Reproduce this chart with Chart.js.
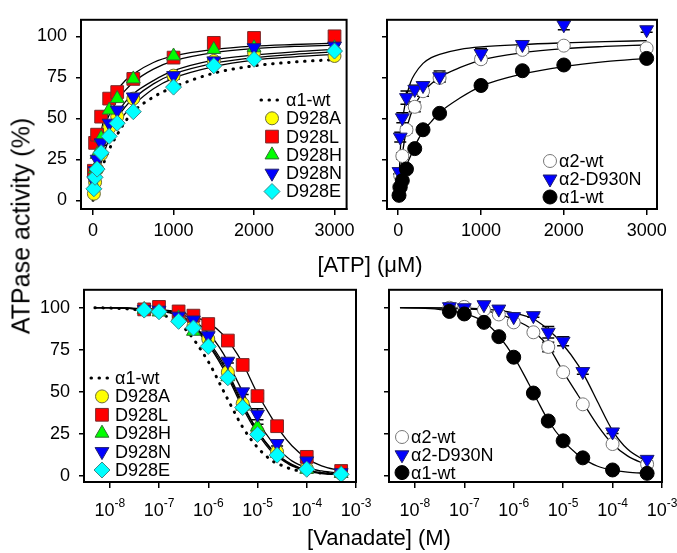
<!DOCTYPE html>
<html>
<head>
<meta charset="utf-8">
<script src="https://cdn.jsdelivr.net/npm/chart.js@4.4.0/dist/chart.umd.min.js"></script>
<style>
body { margin: 0; background: #fff; }
#wrap { position: relative; width: 677px; height: 553px; font-family: 'Liberation Sans', Arial, sans-serif; }
#wrap canvas { position: absolute; }
.title { position: absolute; font-size: 22px; white-space: nowrap; color: #000; transform: translate(-50%, -50%); }
</style>
</head>
<body>
<div id="wrap">
  <canvas id="atpMut" width="360" height="250" style="left:0;top:0"></canvas>
  <canvas id="atpWt" width="317" height="250" style="left:360px;top:0"></canvas>
  <canvas id="vanMut" width="377" height="260" style="left:0;top:270px"></canvas>
  <canvas id="vanWt" width="315" height="260" style="left:362px;top:270px"></canvas>
  <div class="title" style="left:370px;top:265px">[ATP] (μM)</div>
  <div class="title" style="left:379px;top:538px">[Vanadate] (M)</div>
  <div class="title" style="left:21px;top:226px;font-size:25px;transform:translate(-50%,-50%) rotate(-90deg)">ATPase activity (%)</div>
</div>
<script>
// ATP dependence (uM)
const atpConc = [10, 25, 50, 100, 200, 300, 500, 1000, 1500, 2000, 3000];
const atpD928A = [4, 11, 19, 28, 44, 51, 62, 76, 85, 90, 88];
const atpD928L = [18, 35, 40, 51, 62, 66, 74, 87, 96, 99, 100];
const atpD928H = [9, 19, 28, 38, 55, 62, 74, 88, 92, 93, 93];
const atpD928N = [12, 18, 25, 35, 47, 55, 63, 76, 85, 93, 94];
const atpD928E = [7, 14, 19, 29, 39, 47, 54, 69, 82, 86, 91];
const atpA2wt = [8, 15, 27, 43, 57, 66.5, 74.6, 86, 91.7, 94.3, 92.7];
const atpA2D930N = [17.5, 38.5, 50.3, 62.6, 67.6, 70, 75.4, 89.5, 95, 107, 104];
const atpA1wt = [3, 8, 12, 19, 31.5, 43, 53, 70, 79, 82.5, 86.5];

// error bars (+/-), 0 where none is visible
const atpD928AErr = [0, 0, 0, 0, 0, 0, 1.5, 2, 1.5, 1.5, 1];
const atpD928LErr = [1.5, 1.5, 0, 1, 1, 1.5, 2, 1.5, 3, 2.5, 2];
const atpD928HErr = [0, 0, 0, 0, 0, 0, 1.5, 1, 2, 0, 0];
const atpD928NErr = [0, 0, 0, 1.5, 1.5, 0, 1.5, 2, 1.5, 3, 1.5];
const atpD928EErr = [0, 0, 0, 0, 0, 0, 0, 0, 0, 0, 0];
const atpA2wtErr = [0, 0, 2, 2, 3, 3, 2, 2, 2, 1, 1.5];
const atpA2D930NErr = [1.5, 3, 3, 4, 2.5, 2, 3.5, 3, 2, 3, 1.5];
const atpA1wtErr = [0, 0, 0, 0, 0, 0, 0, 0, 1.5, 0, 0];

// fitted curves
const atpFitX = [0, 25, 50, 100, 150, 200, 300, 400, 500, 750, 1000, 1500, 2000, 2500, 3000];
const atpFitD928L = [0, 15, 27, 42, 52, 59, 67, 73, 77, 84, 88, 92, 94, 95, 95.8];
const atpFitD928H = [0, 12, 22, 36, 46, 52, 61, 67, 72, 80, 85, 90, 92.5, 93.8, 94.6];
const atpFitD928N = [0, 9, 17, 29, 38, 44, 53, 60, 65, 73, 79, 85.5, 88.5, 90.5, 92];
const atpFitD928A = [0, 8, 15, 26, 35, 41, 50, 57, 62, 71, 77, 83.5, 87, 89, 90.5];
const atpFitD928E = [0, 7, 13, 23, 31, 37, 46, 53, 58, 68, 74.5, 81.5, 85.5, 87.5, 89];
const atpFitA1wtDots = [0, 5, 10, 18, 25, 31, 40, 48, 54, 63, 69, 77.5, 82, 84.3, 85.8];
const atpFitA2D930N = [0, 30, 47, 63, 72, 77, 83.5, 87, 89, 92, 93.5, 95, 96, 96.8, 97.3];
const atpFitA2wt = [0, 16, 28, 43, 52, 58, 66, 71, 75, 81, 85.5, 90, 92.5, 93.8, 94.7];
const atpFitA1wt = [0, 7, 12, 21, 27, 33, 42, 48, 53.5, 62.5, 69.5, 77, 81.5, 84.5, 86.5];

// vanadate inhibition (M)
const vanConc = [5e-8, 1e-7, 2.5e-7, 5e-7, 1e-6, 2.5e-6, 5e-6, 1e-5, 2.5e-5, 1e-4, 5e-4];
const vanD928A = [99, 98, 93, 89, 81.4, 61.7, 43, 26.8, 14.4, 4.5, 1.5];
const vanD928L = [99, 100.5, 97.8, 95.3, 90.3, 80.5, 66, 47.5, 29.6, 11.4, 3];
const vanD928H = [99, 97.5, 94, 86, 79, 59, 41.5, 29.2, 13.5, 4, 1.5];
const vanD928N = [99, 98.5, 95, 92.7, 83.4, 68.2, 50, 36.7, 19.3, 9, 2];
const vanD928E = [98.6, 97.6, 91.9, 88, 77, 58.4, 40.7, 24.7, 12.4, 4, 1];
const vanA2wt = [100, 100.5, 98.8, 96, 91.3, 85.4, 76.7, 61.7, 42.6, 19, 7];
const vanA2D930N = [100.6, 100, 101.8, 99.2, 94.7, 95.3, 85.4, 80.1, 62.1, 26.2, 9.9];
const vanA1wt = [97.8, 96.3, 91.3, 82.8, 70.6, 49.3, 32.7, 20.9, 10.8, 3.6, 1.6];

const vanD928AErr = [0, 0, 0, 0, 1.5, 1.5, 1.5, 1, 1, 0, 0];
const vanD928LErr = [0, 0, 1, 1, 2, 1, 1, 1.5, 1, 1, 0];
const vanD928HErr = [0, 0, 0, 0, 0, 0, 0, 1.5, 0, 0, 0];
const vanD928NErr = [0, 0, 0, 1, 1.5, 1, 1.5, 3.3, 1.5, 1, 0];
const vanD928EErr = [0, 0, 0, 0, 0, 0, 0, 0, 0, 0, 0];
const vanA2wtErr = [0, 0, 1, 1, 1.5, 1, 2.8, 1, 1, 1, 1];
const vanA2D930NErr = [0, 0, 0, 1, 2, 1, 3.4, 2.7, 1.6, 1, 1];
const vanA1wtErr = [0, 0, 0, 0, 0, 0, 0, 0, 0, 0, 0];

const vanFitX = [5e-9, 1e-8, 3e-8, 1e-7, 3e-7, 1e-6, 2e-6, 3e-6, 5e-6, 1e-5, 2e-5, 3e-5, 5e-5, 1e-4, 2e-4, 5e-4];
const vanFitD928L = [100, 100, 99.6, 99, 97, 91, 84, 77.5, 67, 49, 34, 26, 18, 10.5, 6, 3];
const vanFitD928N = [100, 100, 99.6, 98.7, 96, 85, 73, 63, 50, 33, 20, 14.5, 9, 5, 3, 1.5];
const vanFitD928A = [100, 100, 99.5, 98.5, 95, 80, 67, 57, 43, 27, 15.5, 11, 7, 3.5, 2, 1];
const vanFitD928H = [100, 100, 99.5, 98.3, 94.5, 79, 65.5, 55.5, 42, 27, 15, 10.5, 6.5, 3.3, 1.8, 1];
const vanFitD928E = [100, 100, 99.4, 98, 94, 78, 64, 54, 40.5, 25.5, 14, 10, 6, 3, 1.5, 0.8];
const vanFitA1wtDots = [100, 99.8, 99, 96.5, 89, 68, 51, 41, 29, 17, 9, 6.5, 4, 2.5, 1.8, 1.5];
const vanFitA2D930N = [100, 100, 99.9, 99.7, 99, 97, 94.5, 92, 87, 78, 66, 57, 44, 27, 16, 8.5];
const vanFitA2wt = [100, 100, 99.8, 99.3, 98, 93, 88.5, 84, 77, 62, 48, 40, 30, 19, 12, 6.5];
const vanFitA1wt = [100, 99.8, 99, 96.5, 90, 71, 55, 45, 33, 21, 12.5, 9, 5.8, 3.5, 2.3, 1.6];

const atpTicks = [0, 1000, 2000, 3000];
const vanTicks = [1e-8, 1e-7, 1e-6, 1e-5, 1e-4, 1e-3];
const activityTicks = [0, 25, 50, 75, 100];

const FONT = "'Liberation Sans', Arial, sans-serif";

// marker styles
const mkA = { pointStyle: 'circle', radius: 6.5, fill: '#ffff00', edge: '#6b6b3a' };
const mkL = { pointStyle: 'rect', radius: 9, fill: '#ff0000', edge: '#7a2a2a' };
const mkH = { pointStyle: 'triangle', radius: 8, fill: '#00ff00', edge: '#2f6b2f' };
const mkN = { pointStyle: 'triangle', rotation: 180, radius: 8, fill: '#0000ff', edge: '#20206b' };
const mkE = { pointStyle: 'rectRot', radius: 8, fill: '#00ffff', edge: '#3a8a8a' };
const mkA2wt = { pointStyle: 'circle', radius: 6.5, fill: '#ffffff', edge: '#777777' };
const mkA2N = { pointStyle: 'triangle', rotation: 180, radius: 8, fill: '#0000ff', edge: '#20206b' };
const mkA1wt = { pointStyle: 'circle', radius: 7, fill: '#000000', edge: '#000000' };

function pts(xs, ys) {
    return xs.map(function(x, i) { return { x: x, y: ys[i] }; });
}

function pointSet(xs, ys, errs, mk, order) {
    return {
        type: 'scatter', order: order, data: pts(xs, ys), errs: errs, showLine: false,
        pointStyle: mk.pointStyle, rotation: mk.rotation || 0,
        pointRadius: mk.radius, pointHoverRadius: mk.radius,
        pointBackgroundColor: mk.fill, pointBorderColor: mk.edge, pointBorderWidth: 1
    };
}

function curveSet(xs, ys, dotted) {
    return {
        type: 'line', order: 50, data: pts(xs, ys), showLine: true, fill: false,
        pointRadius: 0, borderColor: '#000',
        borderWidth: dotted ? 3 : 1.3,
        borderDash: dotted ? [0.5, 7.5] : [],
        borderCapStyle: dotted ? 'round' : 'butt',
        cubicInterpolationMode: 'monotone'
    };
}

function drawMarker(ctx, mk, x, y) {
    const r = mk.radius;
    ctx.save();
    ctx.fillStyle = mk.fill;
    ctx.strokeStyle = mk.edge;
    ctx.lineWidth = 1;
    ctx.beginPath();
    if (mk.pointStyle === 'circle') {
        ctx.arc(x, y, r, 0, Math.PI * 2);
    } else if (mk.pointStyle === 'rect') {
        const s = r * Math.SQRT1_2;
        ctx.rect(x - s, y - s, 2 * s, 2 * s);
    } else if (mk.pointStyle === 'rectRot') {
        ctx.moveTo(x, y - r); ctx.lineTo(x + r, y); ctx.lineTo(x, y + r); ctx.lineTo(x - r, y);
        ctx.closePath();
    } else {
        const d = mk.rotation === 180 ? -1 : 1;
        ctx.moveTo(x, y - d * r);
        ctx.lineTo(x + r * 0.866, y + d * r * 0.5);
        ctx.lineTo(x - r * 0.866, y + d * r * 0.5);
        ctx.closePath();
    }
    ctx.fill();
    ctx.stroke();
    ctx.restore();
}

// error bars go under the markers
const errorBars = {
    id: 'errorBars',
    beforeDatasetsDraw: function(chart) {
        const ctx = chart.ctx;
        const sx = chart.scales.x, sy = chart.scales.y;
        ctx.save();
        ctx.strokeStyle = '#000';
        ctx.lineWidth = 1.5;
        chart.data.datasets.forEach(function(ds) {
            if (!ds.errs) return;
            ds.data.forEach(function(p, i) {
                const e = ds.errs[i];
                if (!e) return;
                const px = sx.getPixelForValue(p.x);
                const top = sy.getPixelForValue(p.y + e);
                const bot = sy.getPixelForValue(p.y - e);
                ctx.beginPath();
                ctx.moveTo(px, top); ctx.lineTo(px, bot);
                ctx.moveTo(px - 6, top); ctx.lineTo(px + 6, top);
                ctx.moveTo(px - 6, bot); ctx.lineTo(px + 6, bot);
                ctx.stroke();
            });
        });
        ctx.restore();
    }
};

// frame, in-plot legend and 10^n tick labels
const panelExtras = {
    id: 'panelExtras',
    afterDraw: function(chart, args, opts) {
        const ctx = chart.ctx;
        const a = chart.chartArea;
        ctx.save();
        ctx.strokeStyle = '#000';
        ctx.lineWidth = 2;
        ctx.strokeRect(a.left, a.top, a.right - a.left, a.bottom - a.top);

        ctx.fillStyle = '#000';
        ctx.textBaseline = 'middle';
        ctx.font = '18px ' + FONT;
        (opts.legend || []).forEach(function(it, i) {
            const y = opts.legendY + i * opts.legendStep;
            if (it.dotted) {
                ctx.save();
                ctx.strokeStyle = '#000';
                ctx.lineWidth = 3;
                ctx.lineCap = 'round';
                ctx.setLineDash([0.5, 7.5]);
                ctx.beginPath();
                ctx.moveTo(opts.legendX - 11, y);
                ctx.lineTo(opts.legendX + 10, y);
                ctx.stroke();
                ctx.restore();
            } else {
                drawMarker(ctx, it.mk, opts.legendX, y);
            }
            ctx.fillText(it.label, opts.textX, y + 1);
        });

        if (opts.powerLabels) {
            const sx = chart.scales.x;
            sx.ticks.forEach(function(t) {
                const px = sx.getPixelForValue(t.value);
                const exp = String(Math.round(Math.log10(t.value)));
                ctx.font = '18px ' + FONT;
                const wb = ctx.measureText('10').width;
                ctx.font = '12px ' + FONT;
                const we = ctx.measureText(exp).width;
                const x0 = px - (wb + we) / 2;
                ctx.textBaseline = 'alphabetic';
                ctx.textAlign = 'left';
                ctx.font = '18px ' + FONT;
                ctx.fillText('10', x0, a.bottom + 34);
                ctx.font = '12px ' + FONT;
                ctx.fillText(exp, x0 + wb, a.bottom + 25);
            });
        }
        ctx.restore();
    }
};

function makeAxis(type, min, max, ticks, showLabels, size, isX, tickLen) {
    return {
        type: type, min: min, max: max,
        afterBuildTicks: function(s) { s.ticks = ticks.map(function(v) { return { value: v }; }); },
        afterFit: function(s) { if (isX) { s.height = size; } else { s.width = size; } },
        border: { display: true, color: '#000', width: 2 },
        grid: { drawOnChartArea: false, drawTicks: true, color: '#000', lineWidth: 1.5, tickLength: tickLen },
        ticks: {
            color: '#000', font: { family: FONT, size: 18 }, padding: isX ? 5 : 9,
            maxRotation: 0, autoSkip: false,
            callback: function(v) { return showLabels ? String(v) : ''; }
        }
    };
}

function makePanel(id, datasets, scales, pad, extras) {
    new Chart(document.getElementById(id), {
        type: 'scatter',
        data: { datasets: datasets },
        options: {
            responsive: false, animation: false, devicePixelRatio: 1,
            layout: { padding: pad },
            scales: scales,
            plugins: { legend: { display: false }, tooltip: { enabled: false }, panelExtras: extras }
        },
        plugins: [errorBars, panelExtras]
    });
}

// top left: D928 mutants vs ATP
makePanel('atpMut', [
    curveSet(atpFitX, atpFitA1wtDots, true),
    curveSet(atpFitX, atpFitD928L, false),
    curveSet(atpFitX, atpFitD928H, false),
    curveSet(atpFitX, atpFitD928N, false),
    curveSet(atpFitX, atpFitD928A, false),
    curveSet(atpFitX, atpFitD928E, false),
    pointSet(atpConc, atpD928A, atpD928AErr, mkA, 5),
    pointSet(atpConc, atpD928L, atpD928LErr, mkL, 4),
    pointSet(atpConc, atpD928H, atpD928HErr, mkH, 3),
    pointSet(atpConc, atpD928N, atpD928NErr, mkN, 2),
    pointSet(atpConc, atpD928E, atpD928EErr, mkE, 1)
], {
    x: makeAxis('linear', -150, 3150, atpTicks, true, 41, true, 6),
    y: makeAxis('linear', -5.33, 110.06, activityTicks, true, 81, false, 5)
}, { top: 14, right: 7, left: 0, bottom: 0 }, {
    legendX: 272, textX: 286, legendY: 100, legendStep: 18.3,
    legend: [
        { label: 'α1-wt', dotted: true },
        { label: 'D928A', mk: mkA },
        { label: 'D928L', mk: mkL },
        { label: 'D928H', mk: mkH },
        { label: 'D928N', mk: mkN },
        { label: 'D928E', mk: mkE }
    ]
});

// top right: alpha2 vs ATP
makePanel('atpWt', [
    curveSet(atpFitX, atpFitA2D930N, false),
    curveSet(atpFitX, atpFitA2wt, false),
    curveSet(atpFitX, atpFitA1wt, false),
    pointSet(atpConc, atpA2wt, atpA2wtErr, mkA2wt, 3),
    pointSet(atpConc, atpA2D930N, atpA2D930NErr, mkA2N, 2),
    pointSet(atpConc, atpA1wt, atpA1wtErr, mkA1wt, 1)
], {
    x: makeAxis('linear', -135, 3125, atpTicks, true, 41, true, 6),
    y: makeAxis('linear', -5.33, 110.06, activityTicks, false, 27, false, 5)
}, { top: 14, right: 20, left: 0, bottom: 0 }, {
    legendX: 190, textX: 199, legendY: 161, legendStep: 18,
    legend: [
        { label: 'α2-wt', mk: mkA2wt },
        { label: 'α2-D930N', mk: mkA2N },
        { label: 'α1-wt', mk: mkA1wt }
    ]
});

// bottom left: D928 mutants vs vanadate
makePanel('vanMut', [
    curveSet(vanFitX, vanFitA1wtDots, true),
    curveSet(vanFitX, vanFitD928L, false),
    curveSet(vanFitX, vanFitD928N, false),
    curveSet(vanFitX, vanFitD928A, false),
    curveSet(vanFitX, vanFitD928H, false),
    curveSet(vanFitX, vanFitD928E, false),
    pointSet(vanConc, vanD928A, vanD928AErr, mkA, 5),
    pointSet(vanConc, vanD928L, vanD928LErr, mkL, 4),
    pointSet(vanConc, vanD928H, vanD928HErr, mkH, 3),
    pointSet(vanConc, vanD928N, vanD928NErr, mkN, 2),
    pointSet(vanConc, vanD928E, vanD928EErr, mkE, 1)
], {
    x: makeAxis('logarithmic', 3e-9, 1e-3, vanTicks, false, 48, true, 6),
    y: makeAxis('linear', -3.55, 110.65, activityTicks, true, 84, false, 5)
}, { top: 19, right: 21, left: 0, bottom: 0 }, {
    powerLabels: true,
    legendX: 102, textX: 115, legendY: 108, legendStep: 18.4,
    legend: [
        { label: 'α1-wt', dotted: true },
        { label: 'D928A', mk: mkA },
        { label: 'D928L', mk: mkL },
        { label: 'D928H', mk: mkH },
        { label: 'D928N', mk: mkN },
        { label: 'D928E', mk: mkE }
    ]
});

// bottom right: alpha2 vs vanadate
makePanel('vanWt', [
    curveSet(vanFitX, vanFitA2D930N, false),
    curveSet(vanFitX, vanFitA2wt, false),
    curveSet(vanFitX, vanFitA1wt, false),
    pointSet(vanConc, vanA2wt, vanA2wtErr, mkA2wt, 3),
    pointSet(vanConc, vanA2D930N, vanA2D930NErr, mkA2N, 2),
    pointSet(vanConc, vanA1wt, vanA1wtErr, mkA1wt, 1)
], {
    x: makeAxis('logarithmic', 3e-9, 1e-3, vanTicks, false, 48, true, 6),
    y: makeAxis('linear', -3.55, 110.65, activityTicks, false, 27, false, 5)
}, { top: 19, right: 15, left: 0, bottom: 0 }, {
    powerLabels: true,
    legendX: 40, textX: 49, legendY: 167, legendStep: 17.8,
    legend: [
        { label: 'α2-wt', mk: mkA2wt },
        { label: 'α2-D930N', mk: mkA2N },
        { label: 'α1-wt', mk: mkA1wt }
    ]
});
</script>
</body>
</html>
